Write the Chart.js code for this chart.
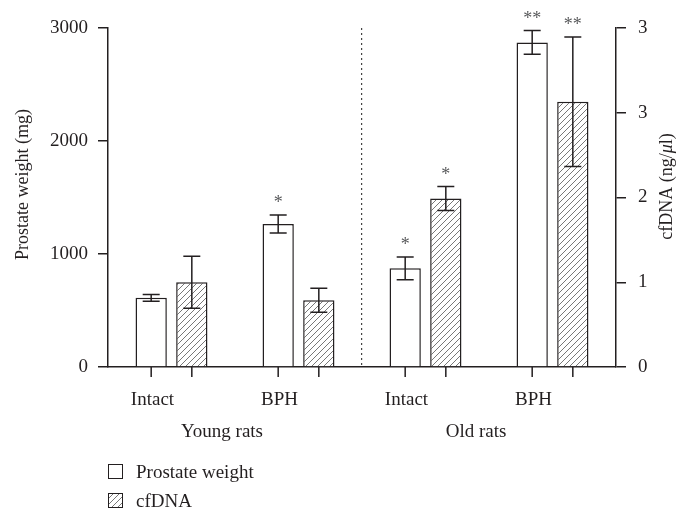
<!DOCTYPE html>
<html><head><meta charset="utf-8">
<script src="https://cdn.jsdelivr.net/npm/chart.js@4.4.1/dist/chart.umd.min.js"></script>
<style>
html,body{margin:0;padding:0;background:#fff;}
#wrap{position:absolute;left:0;top:0;width:682px;height:450px;}
#legend{position:absolute;left:108px;top:457px;font-family:"Liberation Serif",serif;font-size:19px;color:#231f20;}
.row{height:29px;display:flex;align-items:center;}
.row canvas{margin-right:13px;}
</style></head><body>
<div id="wrap"><canvas id="c"></canvas></div>
<div id="legend"></div>
<script>
// ---- data ----
const categories = ['Intact', 'BPH', 'Intact', 'BPH'];
const groups = ['Young rats', 'Old rats'];
const seriesNames = ['Prostate weight', 'cfDNA'];
const prostateWeight = [612, 1265, 873, 2872];
const prostateErr = [30, 80, 100, 105];
const cfDNA = [0.85, 0.67, 1.69, 2.66];
const cfDNAErr = [0.26, 0.12, 0.12, 0.65];
const prostateSig = ['', '*', '*', '**'];
const cfDNASig = ['', '', '*', '**'];
const leftTitle = 'Prostate weight (mg)';
const rightTitleParts = [['cfDNA (ng/', false], ['\u03bc', true], ['l)', false]];

const INK = '#231f20';
const FONT = '"Liberation Serif", serif';
Chart.defaults.font.family = FONT;
Chart.defaults.color = INK;

const canvas = document.getElementById('c');
const mainCtx = canvas.getContext('2d');

function makeHatch(ctx) {
  const s = 6;
  const c = document.createElement('canvas');
  c.width = s; c.height = s;
  const g = c.getContext('2d');
  g.fillStyle = '#fff'; g.fillRect(0, 0, s, s);
  g.strokeStyle = '#555'; g.lineWidth = 0.8;
  g.beginPath();
  g.moveTo(0, s); g.lineTo(s, 0);
  g.moveTo(-1, 1); g.lineTo(1, -1);
  g.moveTo(s - 1, s + 1); g.lineTo(s + 1, s - 1);
  g.stroke();
  return ctx.createPattern(c, 'repeat');
}
const hatch = makeHatch(mainCtx);

const errs = [prostateErr, cfDNAErr];
const sigs = [prostateSig, cfDNASig];

const annot = {
  id: 'annot',
  afterDatasetsDraw(chart) {
    const ctx = chart.ctx;
    const bottom = chart.chartArea.bottom;
    chart.data.datasets.forEach((ds, di) => {
      const meta = chart.getDatasetMeta(di);
      const ys = chart.scales[ds.yAxisID];
      meta.data.forEach((bar, i) => {
        const v = ds.data[i], e = errs[di][i];
        const x = bar.x;
        const yTop = ys.getPixelForValue(v + e);
        const yBot = ys.getPixelForValue(v - e);
        ctx.save();
        ctx.strokeStyle = INK; ctx.lineWidth = 1.5;
        ctx.beginPath();
        ctx.moveTo(x, yTop); ctx.lineTo(x, yBot);
        ctx.moveTo(x - 8.5, yTop); ctx.lineTo(x + 8.5, yTop);
        ctx.moveTo(x - 8.5, yBot); ctx.lineTo(x + 8.5, yBot);
        ctx.moveTo(x, bottom); ctx.lineTo(x, bottom + 10);
        ctx.stroke();
        const s = sigs[di][i];
        if (s) {
          ctx.fillStyle = '#58595b';
          ctx.font = '18px ' + FONT;
          ctx.textAlign = 'center';
          ctx.textBaseline = 'alphabetic';
          ctx.fillText(s, x, yTop - 7);
        }
        ctx.restore();
      });
    });
  },
  afterDraw(chart) {
    const ctx = chart.ctx;
    const cy = (chart.chartArea.top + chart.chartArea.bottom) / 2 - 13;
    ctx.save();
    ctx.fillStyle = INK;
    ctx.textBaseline = 'middle';
    // left title
    ctx.save();
    ctx.translate(23, cy);
    ctx.rotate(-Math.PI / 2);
    ctx.font = '18px ' + FONT;
    ctx.textAlign = 'center';
    ctx.fillText(leftTitle, 0, 0);
    ctx.restore();
    // right title (mixed italic)
    ctx.save();
    ctx.translate(667, cy + 2);
    ctx.rotate(-Math.PI / 2);
    ctx.textAlign = 'left';
    const fs = rightTitleParts.map(p => (p[1] ? 'italic ' : '') + '18px ' + FONT);
    let total = 0;
    rightTitleParts.forEach((p, k) => { ctx.font = fs[k]; total += ctx.measureText(p[0]).width; });
    let xx = -total / 2;
    rightTitleParts.forEach((p, k) => { ctx.font = fs[k]; ctx.fillText(p[0], xx, 0); xx += ctx.measureText(p[0]).width; });
    ctx.restore();
    ctx.restore();
  }
};

const chart = new Chart(canvas, {
  type: 'bar',
  data: {
    labels: categories,
    datasets: [
      { label: seriesNames[0], data: prostateWeight, yAxisID: 'y', xAxisID: 'x',
        backgroundColor: '#fff', borderColor: INK, borderWidth: 1.5,
        categoryPercentage: 0.64, barPercentage: 0.77 },
      { label: seriesNames[1], data: cfDNA, yAxisID: 'y2', xAxisID: 'x',
        backgroundColor: hatch, borderColor: INK, borderWidth: 1.5,
        categoryPercentage: 0.64, barPercentage: 0.77 }
    ]
  },
  options: {
    responsive: true,
    maintainAspectRatio: false,
    animation: false,
    layout: { padding: { top: 28, left: 0, right: 0, bottom: 0 } },
    plugins: { legend: { display: false }, tooltip: { enabled: false } },
    scales: {
      x: {
        type: 'category', position: 'bottom', offset: true, weight: 0,
        grid: { display: true, drawTicks: false, offset: true,
                color: c => c.index === 2 ? '#444' : 'rgba(0,0,0,0)', lineWidth: 1.2 },
        border: { display: true, color: INK, width: 1.5, dash: [2, 3] },
        ticks: { font: { size: 19 }, color: INK, padding: 22, maxRotation: 0, labelOffset: -19 },
        afterFit: s => { s.height = 46; }
      },
      x2: {
        type: 'category', position: 'bottom', offset: true, weight: 1,
        labels: groups,
        grid: { display: false, drawTicks: false },
        border: { display: false },
        ticks: { font: { size: 19 }, color: INK, padding: 8, maxRotation: 0, labelOffset: -13 },
        afterFit: s => { s.height = 37; }
      },
      y: {
        position: 'left', min: 0, max: 3000,
        ticks: { stepSize: 1000, font: { size: 19 }, color: INK, padding: 10,
                 callback: v => String(v) },
        grid: { drawOnChartArea: false, tickLength: 10, color: INK, lineWidth: 1.5 },
        border: { color: INK, width: 1.5 },
        title: { display: false },
        afterFit: s => { s.width = 108; }
      },
      y2: {
        position: 'right', min: 0, max: 3.4,
        ticks: { stepSize: 0.85, font: { size: 19 }, color: INK, padding: 12,
                 callback: v => Math.round(v).toString() },
        grid: { drawOnChartArea: false, tickLength: 10, color: INK, lineWidth: 1.5 },
        border: { color: INK, width: 1.5 },
        title: { display: false },
        afterFit: s => { s.width = 66; }
      }
    }
  },
  plugins: [annot]
});

// legend built from datasets
const leg = document.getElementById('legend');
chart.data.datasets.forEach(ds => {
  const row = document.createElement('div');
  row.className = 'row';
  const sw = document.createElement('canvas');
  sw.width = 15; sw.height = 15;
  const g = sw.getContext('2d');
  g.fillStyle = ds.backgroundColor === '#fff' ? '#fff' : makeHatch(g);
  g.fillRect(0.5, 0.5, 14, 14);
  g.strokeStyle = INK; g.lineWidth = 1;
  g.strokeRect(0.5, 0.5, 14, 14);
  row.appendChild(sw);
  const t = document.createElement('span');
  t.textContent = ds.label;
  row.appendChild(t);
  leg.appendChild(row);
});
</script>
</body></html>
